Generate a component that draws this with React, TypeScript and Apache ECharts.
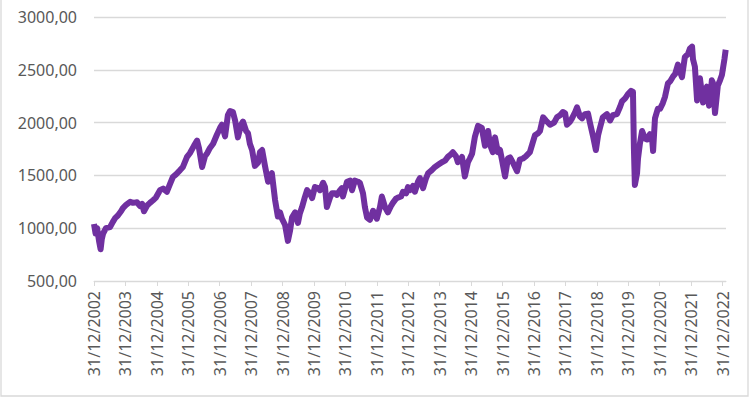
import React, { useEffect, useRef } from "react";
import * as echarts from "echarts";

// Decimal-year positions (2003.00 = 31/12/2002) and index values
const years: number[] = [
  2003.0, 2003.05, 2003.1, 2003.16, 2003.21, 2003.25, 2003.29, 2003.38, 2003.51, 2003.6, 2003.67, 2003.76, 2003.86, 2003.92,
  2004.02, 2004.15, 2004.24, 2004.37, 2004.46, 2004.53, 2004.59, 2004.69, 2004.78, 2004.88, 2004.97,
  2005.1, 2005.2, 2005.32, 2005.42, 2005.51, 2005.61, 2005.74, 2005.83, 2005.96,
  2006.05, 2006.18, 2006.28, 2006.34, 2006.44, 2006.53, 2006.6, 2006.69, 2006.79, 2006.91,
  2007.01, 2007.07, 2007.17, 2007.26, 2007.33, 2007.42, 2007.49, 2007.58, 2007.68, 2007.74, 2007.84, 2007.9, 2007.96,
  2008.03, 2008.12, 2008.22, 2008.28, 2008.35, 2008.44, 2008.54, 2008.6, 2008.66, 2008.76, 2008.85, 2008.92, 2008.98,
  2009.08, 2009.17, 2009.24, 2009.3, 2009.4, 2009.49, 2009.55, 2009.62, 2009.71, 2009.78, 2009.87, 2009.94,
  2010.03, 2010.13, 2010.19, 2010.29, 2010.35, 2010.41, 2010.51, 2010.57, 2010.67, 2010.73, 2010.83, 2010.89, 2010.92,
  2011.05, 2011.15, 2011.21, 2011.3, 2011.4, 2011.46, 2011.56, 2011.62, 2011.69, 2011.78, 2011.88,
  2012.0, 2012.1, 2012.16, 2012.26, 2012.35, 2012.45, 2012.51, 2012.61, 2012.67, 2012.77, 2012.83, 2012.93, 2012.99,
  2013.05, 2013.15, 2013.21, 2013.31, 2013.37, 2013.47, 2013.56, 2013.63, 2013.75, 2013.85, 2013.95,
  2014.07, 2014.17, 2014.26, 2014.36, 2014.42, 2014.52, 2014.58, 2014.65, 2014.71, 2014.8, 2014.9, 2014.96,
  2015.03, 2015.12, 2015.22, 2015.28, 2015.34, 2015.44, 2015.54, 2015.6, 2015.69, 2015.76, 2015.85, 2015.92, 2015.98,
  2016.08, 2016.17, 2016.24, 2016.33, 2016.46, 2016.55, 2016.65, 2016.74, 2016.87, 2016.97,
  2017.03, 2017.13, 2017.19, 2017.29, 2017.38, 2017.51, 2017.64, 2017.73, 2017.83, 2017.92, 2017.99,
  2018.05, 2018.15, 2018.21, 2018.31, 2018.37, 2018.46, 2018.53, 2018.62, 2018.72, 2018.78, 2018.88, 2018.97,
  2019.04, 2019.1, 2019.19, 2019.32, 2019.42, 2019.51, 2019.64, 2019.74, 2019.8, 2019.9, 2019.99,
  2020.09, 2020.15, 2020.18, 2020.21, 2020.28, 2020.31, 2020.37, 2020.44, 2020.53, 2020.6, 2020.69, 2020.75, 2020.79, 2020.85, 2020.94,
  2021.01, 2021.1, 2021.17, 2021.26, 2021.33, 2021.42, 2021.49, 2021.58, 2021.65, 2021.71, 2021.8, 2021.9, 2021.96,
  2022.03, 2022.06, 2022.12, 2022.19, 2022.28, 2022.38, 2022.44, 2022.5, 2022.57, 2022.6, 2022.66, 2022.69, 2022.76, 2022.85, 2022.92, 2022.98,
  2023.06, 2023.1,
];

const values: number[] = [
  1040, 950, 1000, 880, 800, 900, 950, 1000, 1010, 1060, 1095, 1120, 1160, 1190,
  1220, 1250, 1240, 1245, 1210, 1230, 1160, 1215, 1240, 1265, 1290,
  1360, 1375, 1345, 1420, 1485, 1510, 1550, 1580, 1675,
  1710, 1780, 1830, 1760, 1580, 1680, 1710, 1760, 1800, 1885,
  1950, 1980, 1870, 2070, 2110, 2100, 2020, 1860, 1980, 2010, 1920, 1900, 1800,
  1740, 1590, 1620, 1720, 1740, 1590, 1440, 1500, 1520, 1270, 1110, 1150, 1090,
  1030, 880, 980, 1100, 1150, 1050, 1140, 1200, 1295, 1360, 1330, 1285,
  1390, 1380, 1360, 1430, 1390, 1200, 1290, 1330, 1330, 1315, 1360, 1380, 1300,
  1440, 1450, 1360, 1450, 1440, 1430, 1330, 1200, 1100, 1080, 1165,
  1090, 1200, 1300, 1200, 1150, 1210, 1240, 1280, 1290, 1300, 1345, 1330, 1390,
  1360, 1400, 1345, 1440, 1475, 1380, 1470, 1520, 1550, 1580, 1600,
  1625, 1640, 1675, 1700, 1720, 1680, 1625, 1650, 1675, 1490, 1625, 1660,
  1705, 1865, 1970, 1960, 1950, 1780, 1920, 1790, 1720, 1860, 1720, 1740, 1650,
  1490, 1660, 1670, 1620, 1540, 1650, 1660, 1680, 1720, 1820,
  1880, 1900, 1920, 2050, 2020, 1980, 2000, 2050, 2070, 2100, 2090,
  1980, 2010, 2040, 2100, 2145, 2060, 2040, 2080, 2085, 2000, 1870, 1740,
  1880, 1950, 2050, 2080, 2020, 2070, 2080, 2150, 2200, 2230, 2270,
  2300, 2290, 1750, 1410, 1520, 1660, 1800, 1920, 1850, 1840, 1890, 1870, 1730, 2040, 2130,
  2130, 2185, 2245, 2370, 2390, 2435, 2460, 2550, 2480, 2430, 2620, 2650, 2700,
  2720, 2600, 2530, 2210, 2420, 2190, 2300, 2340, 2160, 2200, 2400, 2380, 2090, 2350, 2400, 2450,
  2600, 2690,
];

// Tick positions (decimal years); the label shows 31/12 of the previous year
const tickYears: number[] = [
  2003, 2004, 2005, 2006, 2007, 2008, 2009, 2010, 2011, 2012, 2013, 2014, 2015, 2016, 2017, 2018, 2019, 2020, 2021, 2022, 2023,
];

const yMin = 500;
const yMax = 3000;
const yStep = 500;

export default function App() {
  const ref = useRef<HTMLDivElement>(null);

  useEffect(() => {
    if (!ref.current) return;
    const chart = echarts.init(ref.current, undefined, { renderer: "svg" });
    const data = years.map((y, i) => [y, values[i]]);
    const labelColor = "#595959";
    const gridColor = "#d9d9d9";
    chart.setOption({
      animation: false,
      textStyle: { fontFamily: "Noto Sans" },
      grid: { left: 94, right: 24, top: 17, bottom: 117, containLabel: false },
      xAxis: {
        type: "value",
        min: 2003,
        max: 2023.11,
        interval: 1,
        splitLine: { show: false },
        axisLine: { show: true, lineStyle: { color: gridColor, width: 1 } },
        axisTick: {
          show: true,
          length: 5,
          lineStyle: { color: gridColor },
          customValues: tickYears,
        },
        axisLabel: {
          rotate: 90,
          margin: 10,
          color: labelColor,
          fontSize: 16,
          fontFamily: "Noto Sans",
          customValues: tickYears,
          formatter: (v: number) => `31/12/${Math.round(v) - 1}`,
        },
      },
      yAxis: {
        type: "value",
        min: yMin,
        max: yMax,
        interval: yStep,
        axisLine: { show: false },
        axisTick: { show: false },
        splitLine: { show: true, lineStyle: { color: gridColor, width: 1.3 } },
        axisLabel: {
          margin: 17,
          color: labelColor,
          fontSize: 16,
          fontFamily: "Noto Sans",
          formatter: (v: number) => v.toFixed(2).replace(".", ","),
        },
      },
      graphic: [
        {
          type: "rect",
          shape: { x: 1, y: -10, width: 747, height: 406 },
          style: { fill: "none", stroke: gridColor, lineWidth: 1.3 },
          silent: true,
        },
      ],
      series: [
        {
          type: "line",
          data,
          showSymbol: false,
          symbol: "none",
          lineStyle: { color: "#7030A0", width: 6, join: "round" },
          clip: true,
        },
      ],
    });
    return () => chart.dispose();
  }, []);

  return (
    <div
      ref={ref}
      style={{ position: "fixed", left: 0, top: 0, width: 750, height: 398, background: "#fff" }}
    />
  );
}
